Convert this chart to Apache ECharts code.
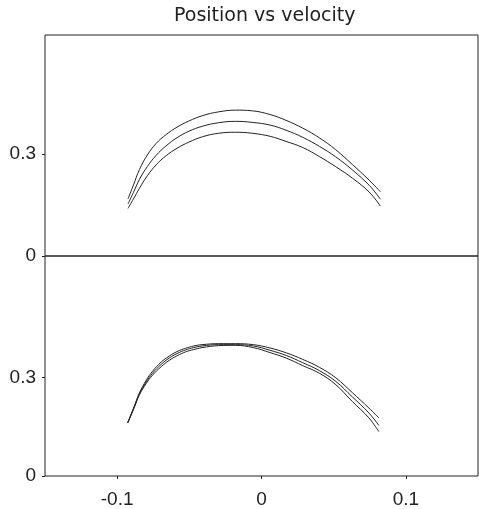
<!DOCTYPE html>
<html>
<head>
<meta charset="utf-8">
<script src="https://cdn.jsdelivr.net/npm/echarts@6/dist/echarts.min.js"></script>
<style>
  html, body { margin: 0; padding: 0; background: #fff; }
  #chart { width: 479px; height: 509px; }
</style>
</head>
<body>
<div id="chart"></div>
<script>
// ---- Data ----
var titleText = "Position vs velocity";
var xTicks = [-0.1, 0, 0.1];
var yTicks = [0, 0.3];

// Top panel: shared x samples and three curves
var topX = [-0.0925, -0.0887, -0.0846, -0.0791, -0.0730, -0.0661, -0.0585, -0.0503, -0.0407, -0.0297,
            -0.0181, -0.0064, 0.0060, 0.0170, 0.0286, 0.0403, 0.0513, 0.0630, 0.0746, 0.0824];
var topUpper = [0.168, 0.209, 0.254, 0.297, 0.331, 0.357, 0.379, 0.397, 0.413, 0.424,
                0.429, 0.427, 0.416, 0.399, 0.376, 0.347, 0.313, 0.269, 0.223, 0.189];
var topMiddle = [0.153, 0.187, 0.225, 0.263, 0.296, 0.324, 0.348, 0.367, 0.382, 0.392,
                 0.396, 0.393, 0.385, 0.370, 0.349, 0.322, 0.292, 0.253, 0.208, 0.167];
var topLower = [0.140, 0.168, 0.199, 0.236, 0.268, 0.295, 0.317, 0.335, 0.351, 0.361,
                0.364, 0.361, 0.352, 0.337, 0.319, 0.292, 0.263, 0.229, 0.188, 0.147];

// Bottom panel: shared x samples and three curves
var botX = [-0.0927, -0.0881, -0.0846, -0.0798, -0.0755, -0.0695, -0.0640, -0.0585, -0.0526, -0.0469,
            -0.0412, -0.0297, -0.0181, -0.0057, 0.0058, 0.0172, 0.0286, 0.0401, 0.0515, 0.0629,
            0.0744, 0.0813];
var botUpper = [0.162, 0.213, 0.253, 0.292, 0.319, 0.347, 0.365, 0.379, 0.389, 0.396,
                0.400, 0.403, 0.403, 0.400, 0.390, 0.375, 0.355, 0.331, 0.299, 0.254,
                0.207, 0.177];
var botMiddle = [0.162, 0.211, 0.250, 0.287, 0.313, 0.340, 0.359, 0.373, 0.384, 0.391,
                 0.396, 0.400, 0.400, 0.396, 0.383, 0.367, 0.345, 0.321, 0.288, 0.241,
                 0.192, 0.154];
var botLower = [0.162, 0.209, 0.247, 0.282, 0.307, 0.333, 0.352, 0.366, 0.378, 0.385,
                0.391, 0.397, 0.398, 0.391, 0.376, 0.359, 0.336, 0.313, 0.278, 0.227,
                0.177, 0.135];

// ---- Chart ----
function pairs(xs, ys) { return xs.map(function (x, i) { return [x, ys[i]]; }); }

var ink = '#222';
var labelFont = { fontFamily: 'Liberation Sans', fontSize: 19, color: ink };

function lineSeries(idx, xs, ys) {
  return {
    type: 'line', xAxisIndex: idx, yAxisIndex: idx,
    data: pairs(xs, ys), showSymbol: false, smooth: 0.4,
    lineStyle: { color: ink, width: 1 }, silent: true, animation: false
  };
}

var chart = echarts.init(document.getElementById('chart'), null, { renderer: 'canvas' });
chart.setOption({
  backgroundColor: '#fff',
  animation: false,
  title: {
    text: titleText, left: 169, top: 2,
    textStyle: { fontFamily: 'DejaVu Sans', fontSize: 19, fontWeight: 'normal', color: ink }
  },
  grid: [
    { left: 45, right: 1, top: 35, height: 221, show: true, borderColor: ink, borderWidth: 1, backgroundColor: 'transparent' },
    { left: 45, right: 1, top: 256, height: 220, show: true, borderColor: ink, borderWidth: 1, backgroundColor: 'transparent' }
  ],
  xAxis: [
    { type: 'value', gridIndex: 0, min: -0.15, max: 0.15,
      axisLine: { show: false, onZero: false }, axisTick: { show: false }, axisLabel: { show: false }, splitLine: { show: false } },
    { type: 'value', gridIndex: 1, min: -0.15, max: 0.15, position: 'bottom',
      axisLine: { show: false, onZero: false },
      axisTick: { show: true, inside: false, length: 3, customValues: xTicks, lineStyle: { color: ink } },
      axisLabel: Object.assign({ show: true, margin: 14, customValues: xTicks,
        formatter: function (v) { return v === 0 ? '0' : String(v); } }, labelFont),
      splitLine: { show: false } }
  ],
  yAxis: [
    { type: 'value', gridIndex: 0, min: 0, max: 0.65, position: 'left',
      axisLine: { show: false, onZero: false },
      axisTick: { show: true, inside: false, length: 3, customValues: yTicks, lineStyle: { color: ink } },
      axisLabel: Object.assign({ show: true, margin: 9, customValues: yTicks }, labelFont),
      splitLine: { show: false } },
    { type: 'value', gridIndex: 1, min: 0, max: 0.67, position: 'left',
      axisLine: { show: false, onZero: false },
      axisTick: { show: true, inside: false, length: 3, customValues: yTicks, lineStyle: { color: ink } },
      axisLabel: Object.assign({ show: true, margin: 9, customValues: yTicks }, labelFont),
      splitLine: { show: false } }
  ],
  series: [
    lineSeries(0, topX, topUpper),
    lineSeries(0, topX, topMiddle),
    lineSeries(0, topX, topLower),
    lineSeries(1, botX, botUpper),
    lineSeries(1, botX, botMiddle),
    lineSeries(1, botX, botLower)
  ]
});
</script>
</body>
</html>
